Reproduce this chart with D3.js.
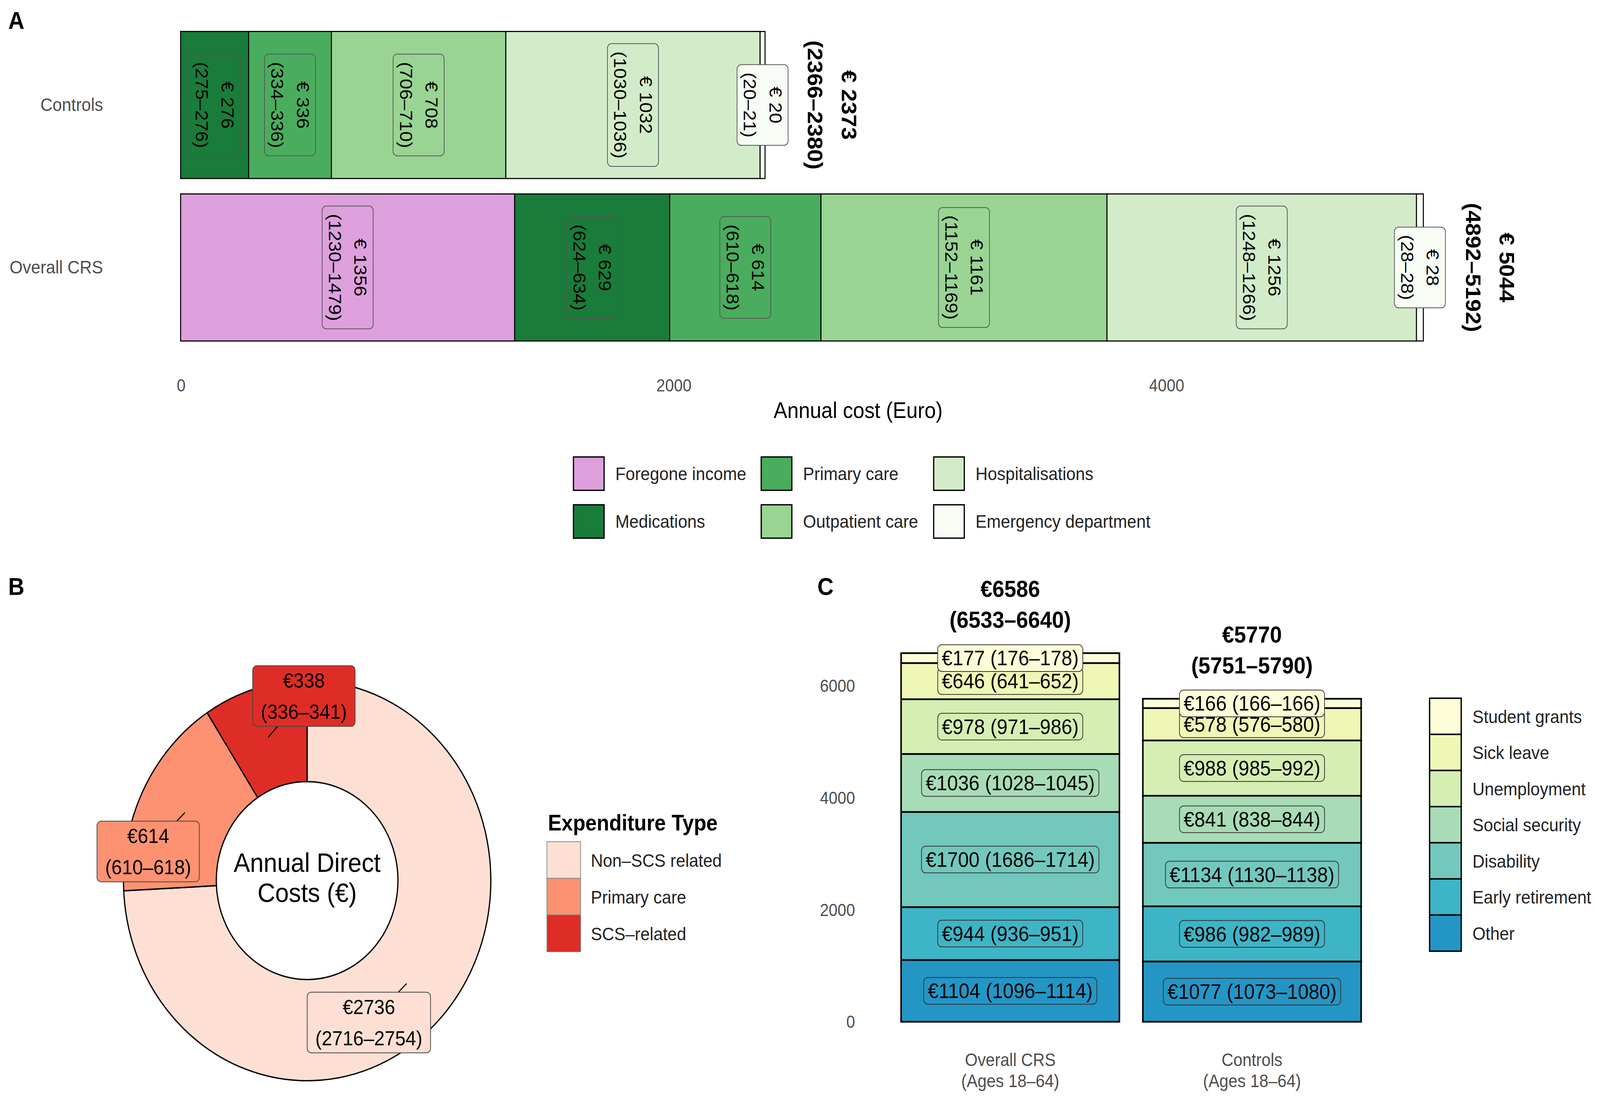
<!DOCTYPE html>
<html>
<head>
<meta charset="utf-8">
<script src="https://cdn.jsdelivr.net/npm/d3@7"></script>
<style>
  html, body { margin: 0; padding: 0; width: 100%; height: 100%; overflow: hidden; background: #fff; }
  svg { display: block; width: 100vw; height: 100vh; }
  text { font-family: "Liberation Sans", Arial, Helvetica, sans-serif; }
</style>
</head>
<body>
<script>
// ---------- data ----------
// panel A: annual cost per category (Euro), with ranges
const groupsA = ["Controls", "Overall CRS"];
const typesA = ["Foregone income", "Medications", "Primary care", "Outpatient care", "Hospitalisations", "Emergency department"];
const costControlsA = [0, 276, 336, 708, 1032, 20];
const lowControlsA = [0, 275, 334, 706, 1030, 20];
const highControlsA = [0, 276, 336, 710, 1036, 21];
const costCrsA = [1356, 629, 614, 1161, 1256, 28];
const lowCrsA = [1230, 624, 610, 1152, 1248, 28];
const highCrsA = [1479, 634, 618, 1169, 1266, 28];
const totalA = [2373, 5044];
const totalLowA = [2366, 4892];
const totalHighA = [2380, 5192];
const xTicksA = [0, 2000, 4000];

// panel B: annual direct costs
const typesB = ["Non\u2013SCS related", "Primary care", "SCS\u2013related"];
const costB = [2736, 614, 338];
const lowB = [2716, 610, 336];
const highB = [2754, 618, 341];

// panel C: indirect costs, stacked bottom to top
const groupsC = ["Overall CRS", "Controls"];
const groupSubC = ["(Ages 18\u201364)", "(Ages 18\u201364)"];
const typesC = ["Other", "Early retirement", "Disability", "Social security", "Unemployment", "Sick leave", "Student grants"];
const costCrsC = [1104, 944, 1700, 1036, 978, 646, 177];
const lowCrsC = [1096, 936, 1686, 1028, 971, 641, 176];
const highCrsC = [1114, 951, 1714, 1045, 986, 652, 178];
const costControlsC = [1077, 986, 1134, 841, 988, 578, 166];
const lowControlsC = [1073, 982, 1130, 838, 985, 576, 166];
const highControlsC = [1080, 989, 1138, 844, 992, 580, 166];
const totalC = [6586, 5770];
const totalLowC = [6533, 5751];
const totalHighC = [6640, 5790];
const yTicksC = [0, 2000, 4000, 6000];

// ---------- styles ----------
const paletteA = ["#dda0dd", "#197c3a", "#4aad5e", "#99d493", "#d2ecc9", "#f7fcf5"];
const paletteB = ["#fde0d3", "#fc9272", "#de2d26"];
const paletteC = ["#2396c6", "#3db5c6", "#72c8bc", "#a8dcb6", "#d5eeb2", "#eff7b6", "#fdfdd8"];
const axisGrey = "#4d4d4d";
const fontFam = '"Liberation Sans", Arial, sans-serif';

// ---------- canvas ----------
// drawn in a 1568-wide unit box and stretched to fill the whole window
const W = 4463, H = 2816, VW = 1568, VH = VW * H / W;
const svg = d3.select("body").append("svg")
  .attr("viewBox", `0 0 ${VW} ${VH}`)
  .attr("preserveAspectRatio", "none");

// label with optional rounded box, centred at (x, y)
function label(parent, x, y, lines, o) {
  const g = parent.append("g")
    .attr("transform", `translate(${x},${y})` + (o.rotate ? " rotate(90)" : ""));
  const rect = o.fill ? g.append("rect") : null;
  const n = lines.length;
  const texts = g.selectAll("text").data(lines).join("text")
    .attr("x", 0)
    .attr("y", (d, i) => (i - (n - 1) / 2) * o.gap)
    .attr("text-anchor", "middle")
    .attr("dominant-baseline", "central")
    .attr("font-size", o.size)
    .attr("font-weight", o.bold ? "bold" : null)
    .attr("fill", "#000")
    .text(d => d);
  const tw = d3.max(texts.nodes(), t => t.getComputedTextLength());
  const bw = tw + 2 * (o.padX || 0), bh = (n - 1) * o.gap + o.size + 2 * (o.padY || 0);
  if (rect) {
    rect.attr("x", -bw / 2).attr("y", -bh / 2)
      .attr("width", bw).attr("height", bh)
      .attr("rx", 4).attr("ry", 4)
      .attr("fill", o.fill)
      .attr("stroke", o.stroke || "#333")
      .attr("stroke-width", 0.7);
  }
  return { bw, bh };
}

// panel letters
[["A", 8, 26], ["B", 8, 535], ["C", 801, 535]].forEach(([t, x, y]) => {
  svg.append("text").attr("x", x).attr("y", y)
    .attr("font-size", 22).attr("font-weight", "bold").text(t);
});

// ================= PANEL A =================
const gA = svg.append("g");
const xA = d3.scaleLinear().domain([0, 5500]).range([177, 1505]);
const yA = d3.scaleBand().domain(groupsA).range([21, 314]).paddingInner(0.095).paddingOuter(0.05);
const colorA = d3.scaleOrdinal().domain(typesA).range(paletteA);
const costA = [costControlsA, costCrsA], lowA = [lowControlsA, lowCrsA], highA = [highControlsA, highCrsA];

const rowsA = groupsA.map((g, i) => {
  const r = { group: g, gi: i };
  typesA.forEach((t, j) => r[t] = costA[i][j]);
  return r;
});
const seriesA = d3.stack().keys(typesA)(rowsA);

gA.selectAll("g.layer").data(seriesA).join("g")
  .attr("class", "layer")
  .attr("fill", d => colorA(d.key))
  .selectAll("rect").data(d => d.filter(s => s[1] - s[0] > 0)).join("rect")
  .attr("x", d => xA(d[0]))
  .attr("y", d => yA(d.data.group))
  .attr("width", d => xA(d[1]) - xA(d[0]))
  .attr("height", yA.bandwidth())
  .attr("stroke", "#000")
  .attr("stroke-width", 1);

// segment labels (rotated)
seriesA.forEach((s, j) => {
  s.forEach(seg => {
    const i = seg.data.gi;
    const v = costA[i][j];
    if (!v) return;
    label(gA, xA((seg[0] + seg[1]) / 2), yA(seg.data.group) + yA.bandwidth() / 2,
      [`\u20ac ${v}`, `(${lowA[i][j]}\u2013${highA[i][j]})`],
      { rotate: true, size: 17, gap: 25, padX: 7, padY: 4, fill: colorA(typesA[j]), stroke: "#555" });
  });
});

// totals (rotated, bold)
groupsA.forEach((g, i) => {
  label(gA, xA(totalA[i]) + 65.5, yA(g) + yA.bandwidth() / 2,
    [`\u20ac ${totalA[i]}`, `(${totalLowA[i]}\u2013${totalHighA[i]})`],
    { rotate: true, size: 20.5, gap: 33, bold: true });
});

// axes
gA.append("g")
  .attr("transform", "translate(0,335)")
  .call(d3.axisBottom(xA).tickValues(xTicksA).tickFormat(d3.format("d")).tickSize(0).tickPadding(6))
  .call(g => g.select(".domain").remove())
  .call(g => g.selectAll("text").attr("font-size", 15.5).attr("fill", axisGrey).attr("font-family", fontFam));

gA.append("g")
  .attr("transform", "translate(101,0)")
  .call(d3.axisLeft(yA).tickSize(0).tickPadding(0))
  .call(g => g.select(".domain").remove())
  .call(g => g.selectAll("text").attr("font-size", 16.5).attr("fill", axisGrey).attr("font-family", fontFam));

gA.append("text")
  .attr("x", (xA.range()[0] + xA.range()[1]) / 2).attr("y", 369)
  .attr("text-anchor", "middle").attr("dominant-baseline", "central")
  .attr("font-size", 20).text("Annual cost (Euro)");

// legend A (3 columns x 2 rows, column-major)
const legColX = [562, 746, 915], legRowY = [411, 454];
const legA = gA.append("g").selectAll("g").data(typesA).join("g")
  .attr("transform", (d, i) => `translate(${legColX[Math.floor(i / 2)]},${legRowY[i % 2]})`);
legA.append("rect").attr("width", 30).attr("height", 30)
  .attr("fill", d => colorA(d)).attr("stroke", "#000").attr("stroke-width", 1.2);
legA.append("text").attr("x", 41).attr("y", 15).attr("dominant-baseline", "central")
  .attr("font-size", 16.5).attr("fill", "#222").text(d => d);

// ================= PANEL B =================
const cB = [301, 792];
const gB = svg.append("g").attr("transform", `translate(${cB[0]},${cB[1]})`);
const rIn = 89, rOut = 180, rMid = (rIn + rOut) / 2;
const colorB = d3.scaleOrdinal().domain(typesB).range(paletteB);
const arcsB = d3.pie().sort(null).value(d => d)(costB);
const arcB = d3.arc().innerRadius(rIn).outerRadius(rOut);
const arcMidB = d3.arc().innerRadius(rMid).outerRadius(rMid);

gB.selectAll("path").data(arcsB).join("path")
  .attr("d", arcB)
  .attr("fill", (d, i) => colorB(typesB[i]))
  .attr("stroke", "#000").attr("stroke-width", 1.2);

gB.append("text").attr("text-anchor", "middle").attr("font-size", 24)
  .selectAll("tspan").data(["Annual Direct", "Costs (\u20ac)"]).join("tspan")
  .attr("x", 0).attr("y", (d, i) => -16 + i * 27)
  .attr("dominant-baseline", "central").text(d => d);

// repelled label positions (offset from the slice anchor), like ggrepel output
const nudgeB = [[-37, 35], [-36, 35], [35, -37]];
arcsB.forEach((a, i) => {
  const [ax, ay] = arcMidB.centroid(a);
  const lx = ax + nudgeB[i][0], ly = ay + nudgeB[i][1];
  const gl = gB.append("g");
  const { bw, bh } = label(gl, lx, ly, [`\u20ac${costB[i]}`, `(${lowB[i]}\u2013${highB[i]})`],
    { size: 18.5, gap: 28, padX: 8, padY: 4, fill: colorB(typesB[i]), stroke: "#444" });
  const vx = ax - lx, vy = ay - ly;
  const s = Math.min((bw / 2) / Math.abs(vx), (bh / 2) / Math.abs(vy));
  if (s < 1) {
    gB.insert("line", "g")
      .attr("x1", ax).attr("y1", ay)
      .attr("x2", lx + vx * s).attr("y2", ly + vy * s)
      .attr("stroke", "#000").attr("stroke-width", 1);
  }
});

// legend B
const gLB = svg.append("g").attr("transform", "translate(536,740)");
gLB.append("text").attr("x", 1).attr("y", 0).attr("dominant-baseline", "central")
  .attr("font-size", 20).attr("font-weight", "bold").text("Expenditure Type");
const legB = gLB.selectAll("g.k").data(typesB).join("g").attr("class", "k")
  .attr("transform", (d, i) => `translate(0,${17 + i * 33})`);
legB.append("rect").attr("width", 33).attr("height", 33)
  .attr("fill", d => colorB(d)).attr("stroke", "#777").attr("stroke-width", 0.6);
legB.append("text").attr("x", 43).attr("y", 17).attr("dominant-baseline", "central")
  .attr("font-size", 16.5).attr("fill", "#222").text(d => d);

// ================= PANEL C =================
const gC = svg.append("g");
const yC = d3.scaleLinear().domain([0, 8000]).range([919, 516.2]);
const xC = d3.scaleBand().domain(groupsC).range([848, 1369]).paddingInner(0.097).paddingOuter(0.148);
const colorC = d3.scaleOrdinal().domain(typesC).range(paletteC);
const costC = [costCrsC, costControlsC], lowC = [lowCrsC, lowControlsC], highC = [highCrsC, highControlsC];

const rowsC = groupsC.map((g, i) => {
  const r = { group: g, gi: i };
  typesC.forEach((t, j) => r[t] = costC[i][j]);
  return r;
});
const seriesC = d3.stack().keys(typesC)(rowsC);

gC.selectAll("g.layer").data(seriesC).join("g")
  .attr("class", "layer")
  .attr("fill", d => colorC(d.key))
  .selectAll("rect").data(d => d).join("rect")
  .attr("x", d => xC(d.data.group))
  .attr("y", d => yC(d[1]))
  .attr("width", xC.bandwidth())
  .attr("height", d => yC(d[0]) - yC(d[1]))
  .attr("stroke", "#000").attr("stroke-width", 1.5);

seriesC.forEach((s, j) => {
  s.forEach(seg => {
    const i = seg.data.gi;
    label(gC, xC(seg.data.group) + xC.bandwidth() / 2, yC((seg[0] + seg[1]) / 2),
      [`\u20ac${costC[i][j]} (${lowC[i][j]}\u2013${highC[i][j]})`],
      { size: 19, gap: 0, padX: 4, padY: 2.5, fill: colorC(typesC[j]), stroke: "#333" });
  });
});

// totals above bars
groupsC.forEach((g, i) => {
  label(gC, xC(g) + xC.bandwidth() / 2, yC(totalC[i]) - 44,
    [`\u20ac${totalC[i]}`, `(${totalLowC[i]}\u2013${totalHighC[i]})`],
    { size: 21, gap: 28, bold: true });
});

// axes
gC.append("g")
  .attr("transform", "translate(838,0)")
  .call(d3.axisLeft(yC).tickValues(yTicksC).tickFormat(d3.format("d")).tickSize(0).tickPadding(0))
  .call(g => g.select(".domain").remove())
  .call(g => g.selectAll("text").attr("font-size", 15.5).attr("fill", axisGrey).attr("font-family", fontFam));

const xlabC = gC.append("g").selectAll("text").data(groupsC).join("text")
  .attr("text-anchor", "middle").attr("font-size", 16).attr("fill", axisGrey);
xlabC.append("tspan").attr("x", d => xC(d) + xC.bandwidth() / 2).attr("y", 953)
  .attr("dominant-baseline", "central").text(d => d);
xlabC.append("tspan").attr("x", d => xC(d) + xC.bandwidth() / 2).attr("y", 972)
  .attr("dominant-baseline", "central").text((d, i) => groupSubC[i]);

// legend C (top to bottom: reverse stacking order)
const legCTypes = typesC.slice().reverse();
const legC = gC.append("g").attr("transform", "translate(1401,628)")
  .selectAll("g").data(legCTypes).join("g")
  .attr("transform", (d, i) => `translate(0,${i * 32.5})`);
legC.append("rect").attr("width", 31).attr("height", 32.5)
  .attr("fill", d => colorC(d)).attr("stroke", "#000").attr("stroke-width", 1.3);
legC.append("text").attr("x", 42).attr("y", 16.5).attr("dominant-baseline", "central")
  .attr("font-size", 16.5).attr("fill", "#222").text(d => d);
</script>
</body>
</html>
